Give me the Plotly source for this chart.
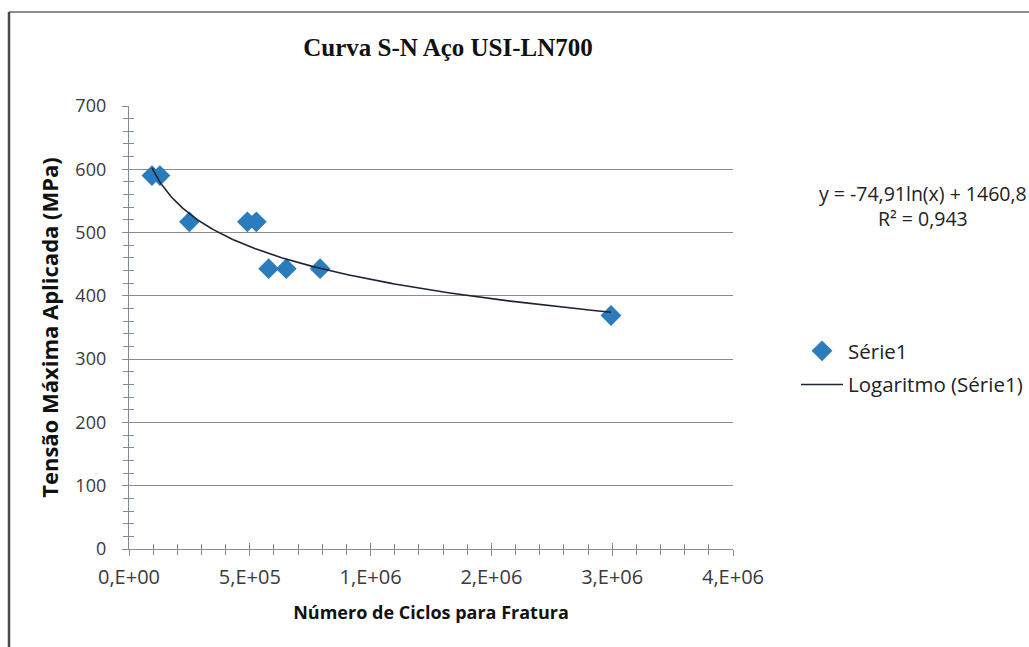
import numpy as np
import plotly.graph_objects as go

# ---- data ----
cycles = [95000, 128000, 250000, 490000, 527000, 578000, 651000, 791000, 1995000]
stress = [590, 590, 517, 517, 517, 443, 443, 443, 369]
coef_a = -74.91
coef_b = 1460.8
x_tickvals = [0, 500000, 1000000, 1500000, 2000000, 2500000]
x_ticktext = ["0,E+00", "5,E+05", "1,E+06", "2,E+06", "3,E+06", "4,E+06"]
y_tickvals = [0, 100, 200, 300, 400, 500, 600, 700]

W, H = 1029, 647
L, R, T, B = 129, 1029 - 733, 106, 647 - 549
pw, ph = W - L - R, H - T - B

def px(xp):
    return (xp - L) / pw

def py(yp):
    return (H - B - yp) / ph

xs = np.linspace(min(cycles), max(cycles), 300)
ys = coef_a * np.log(xs) + coef_b

SANS = "Open Sans, Liberation Sans, sans-serif"
AX = "#858b93"

fig = go.Figure()
fig.add_trace(go.Scatter(
    x=cycles, y=stress, mode="markers", name="Série1",
    marker=dict(symbol="diamond", size=16, color="#2B7CBC", line=dict(width=0)),
    legendgroup="a"))
fig.add_trace(go.Scatter(
    x=xs, y=ys, mode="lines", name="Logaritmo (Série1)",
    line=dict(color="#1c2433", width=1.6),
    legendgroup="b"))
# invisible trace to activate secondary axes (inner half of crossing ticks)
fig.add_trace(go.Scatter(x=[None], y=[None], xaxis="x2", yaxis="y2",
                         showlegend=False, hoverinfo="skip"))

fig.update_layout(
    width=W, height=H,
    margin=dict(l=L, r=R, t=T, b=B, pad=0, autoexpand=False),
    paper_bgcolor="white", plot_bgcolor="white",
    showlegend=True,
    legend=dict(x=px(796), y=py(331), xanchor="left", yanchor="top",
                font=dict(family=SANS, size=20.5, color="#222"),
                tracegroupgap=4, bgcolor="rgba(0,0,0,0)", itemwidth=42),
    title=dict(text="<b>Curva S-N Aço USI-LN700</b>", x=448 / W, xanchor="center",
               y=1 - 47 / H, yanchor="middle",
               font=dict(family="Liberation Serif, Times New Roman, serif", size=25, color="#111")),
    xaxis=dict(
        range=[0, 2500000], tickvals=x_tickvals, ticktext=x_ticktext,
        showgrid=False, zeroline=False, automargin=False,
        showline=True, linecolor=AX, linewidth=1.3,
        ticks="outside", ticklen=6, tickcolor=AX, tickwidth=1.2,
        minor=dict(dtick=100000, ticks="outside", ticklen=5, tickcolor=AX, tickwidth=1),
        tickfont=dict(family=SANS, size=20, color="#3a3a3a"),
        ticklabelstandoff=4,
        title=dict(text="<b>Número de Ciclos para Fratura</b>", standoff=17,
                   font=dict(family=SANS, size=18, color="#111")),
    ),
    yaxis=dict(
        range=[0, 700], tickvals=y_tickvals,
        showgrid=True, gridcolor="#8c8c8c", gridwidth=1.2,
        zeroline=False, automargin=False,
        showline=True, linecolor=AX, linewidth=1.3,
        ticks="outside", ticklen=6, tickcolor=AX, tickwidth=1.2,
        minor=dict(dtick=20, ticks="outside", ticklen=5, tickcolor=AX, tickwidth=1, showgrid=False),
        tickfont=dict(family=SANS, size=18, color="#3a3a3a"),
        ticklabelstandoff=12,
        title=dict(text="<b>Tensão Máxima Aplicada (MPa)</b>", standoff=10,
                   font=dict(family=SANS, size=22, color="#111")),
    ),
    xaxis2=dict(overlaying="x", matches="x", range=[0, 2500000], tickvals=x_tickvals,
                showticklabels=False, showgrid=False, zeroline=False, showline=False,
                ticks="inside", ticklen=6, tickcolor=AX, tickwidth=1.2,
                minor=dict(dtick=100000, ticks="inside", ticklen=5, tickcolor=AX, tickwidth=1)),
    yaxis2=dict(overlaying="y", matches="y", range=[0, 700], tickvals=y_tickvals,
                showticklabels=False, showgrid=False, zeroline=False, showline=False,
                ticks="inside", ticklen=6, tickcolor=AX, tickwidth=1.2,
                minor=dict(dtick=20, ticks="inside", ticklen=5, tickcolor=AX, tickwidth=1)),
)

# equation label
fig.add_annotation(
    x=px(923), y=py(206), xref="paper", yref="paper", xanchor="center", yanchor="middle",
    text="y = -74,91ln(x) + 1460,8<br>R² = 0,943", showarrow=False, align="center",
    font=dict(family=SANS, size=19.5, color="#222"))

# scanned page frame
fig.add_shape(type="line", xref="paper", yref="paper",
              x0=px(9), x1=px(1029), y0=py(12), y1=py(12),
              line=dict(color="#8a8f96", width=2))
fig.add_shape(type="line", xref="paper", yref="paper",
              x0=px(9), x1=px(9), y0=py(12), y1=py(647),
              line=dict(color="#4a4a4a", width=2.5))

fig.write_html("out.html")
